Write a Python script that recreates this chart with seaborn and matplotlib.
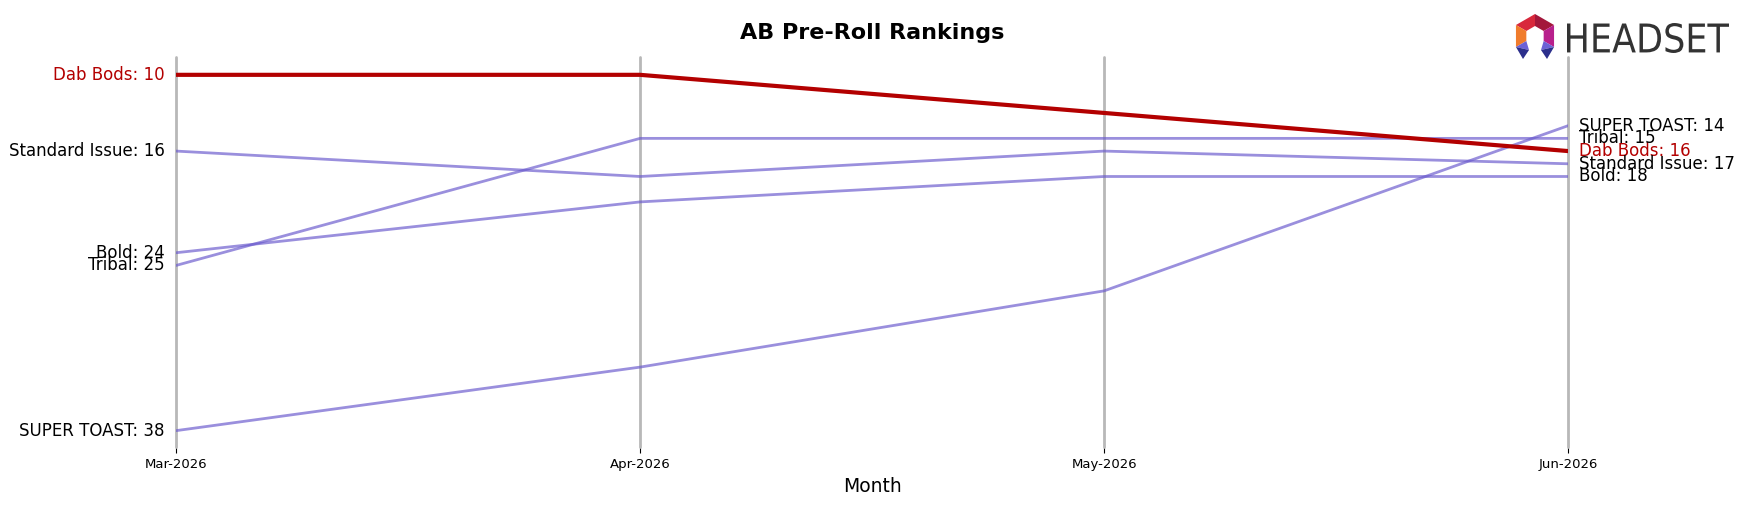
import pandas as pd
import numpy as np
import matplotlib
matplotlib.use("Agg")
import matplotlib.pyplot as plt
from matplotlib.patches import Polygon, PathPatch
from matplotlib.textpath import TextPath
from matplotlib.font_manager import FontProperties
from matplotlib.transforms import Affine2D
import seaborn as sns

# data
months = ["Mar-2026", "Apr-2026", "May-2026", "Jun-2026"]
dab_bods = [10, 10, 13, 16]
standard_issue = [16, 18, 16, 17]
bold = [24, 20, 18, 18]
tribal = [25, 15, 15, 15]
super_toast = [38, 33, 27, 14]

brands = {
    "Dab Bods": dab_bods,
    "Standard Issue": standard_issue,
    "Bold": bold,
    "Tribal": tribal,
    "SUPER TOAST": super_toast,
}
focus = "Dab Bods"

rows = []
for name, vals in brands.items():
    for i, v in enumerate(vals):
        rows.append({"brand": name, "x": i, "rank": v})
df = pd.DataFrame(rows)

sns.set_style("white")
plt.rcParams["font.family"] = ["DejaVu Sans"]
plt.rcParams["text.color"] = "black"
plt.rcParams["axes.labelcolor"] = "black"
plt.rcParams["xtick.color"] = "black"

fig = plt.figure(figsize=(17.5, 5.07), dpi=100)
ax = fig.add_axes([0.1006, 0.118, 0.7955, 0.7695])

red = "#b30000"
purple = "#6a5acd"

others = df[df.brand != focus]
sns.lineplot(data=others, x="x", y="rank", hue="brand", estimator=None,
             palette={b: purple for b in brands if b != focus},
             linewidth=2, alpha=0.68, legend=False, ax=ax, zorder=2)
sns.lineplot(data=df[df.brand == focus], x="x", y="rank", estimator=None,
             color=red, linewidth=3, legend=False, ax=ax, zorder=3)

for i in range(len(months)):
    ax.axvline(i, color="#b8b8b8", linewidth=2, zorder=1, clip_on=False)

ax.set_xlim(0, len(months) - 1)
ax.set_ylim(39.3, 8.6)
ax.set_xticks(range(len(months)))
ax.set_xticklabels(months, fontsize=9.5)
ax.set_yticks([])
ax.tick_params(axis="x", length=4, width=0.8, color="black", pad=4)
ax.xaxis.set_ticks_position("bottom")
for s in ax.spines.values():
    s.set_visible(False)
ax.set_xlabel("Month", fontsize=13.5)
ax.set_ylabel("")

# end labels
for name, vals in brands.items():
    c = red if name == focus else "black"
    ax.annotate(f"{name}: {vals[0]}", xy=(0, vals[0]), xytext=(-8, 0),
                textcoords="offset points", ha="right", va="center",
                fontsize=12, color=c)
    ax.annotate(f"{name}: {vals[-1]}", xy=(len(months) - 1, vals[-1]), xytext=(8, 0),
                textcoords="offset points", ha="left", va="center",
                fontsize=12, color=c)

fig.text(0.4983, 0.935, "AB Pre-Roll Rankings", ha="center", va="center",
         fontsize=16, fontweight="bold")

# HEADSET logo, drawn in pixel coordinates
lax = fig.add_axes([0, 0, 1, 1], facecolor="none")
lax.set_xlim(0, 1750)
lax.set_ylim(507, 0)
lax.axis("off")

cx, cy, ro, ri = 1535, 36, 22, 10
ang = np.radians([90, 30, -30, -90, -150, 150])
outer = [(cx + ro * np.cos(a), cy - ro * np.sin(a)) for a in ang]
inner = [(cx + ri * np.cos(a), cy - ri * np.sin(a)) for a in ang]
segs = [(5, 0, "#d8283c"), (0, 1, "#a3173b"), (1, 2, "#b8208c"), (4, 5, "#f07c2c")]
for a, b, col in segs:
    lax.add_patch(Polygon([outer[a], outer[b], inner[b], inner[a]], closed=True,
                          facecolor=col, edgecolor="none"))
lax.add_patch(Polygon([outer[4], inner[4], (cx - 6, cy + 14)], facecolor="#6c62d6", edgecolor="none"))
lax.add_patch(Polygon([outer[4], (cx - 6, cy + 14), (cx - 12, cy + 23)], facecolor="#2c2f8c", edgecolor="none"))
lax.add_patch(Polygon([outer[2], inner[2], (cx + 6, cy + 14)], facecolor="#6c62d6", edgecolor="none"))
lax.add_patch(Polygon([outer[2], (cx + 6, cy + 14), (cx + 12, cy + 23)], facecolor="#2c2f8c", edgecolor="none"))

# condensed wordmark: squeeze a text path into the logo box
tp = TextPath((0, 0), "HEADSET", size=10, prop=FontProperties(family="DejaVu Sans"))
bb = tp.get_extents()
sx = (1729 - 1567) / bb.width
sy = (53 - 23) / bb.height
tr = Affine2D().translate(-bb.x0, -bb.y0).scale(sx, -sy).translate(1567, 53)
lax.add_patch(PathPatch(tr.transform_path(tp), facecolor="#333333", edgecolor="none"))

fig.savefig("out.png", dpi=100)
